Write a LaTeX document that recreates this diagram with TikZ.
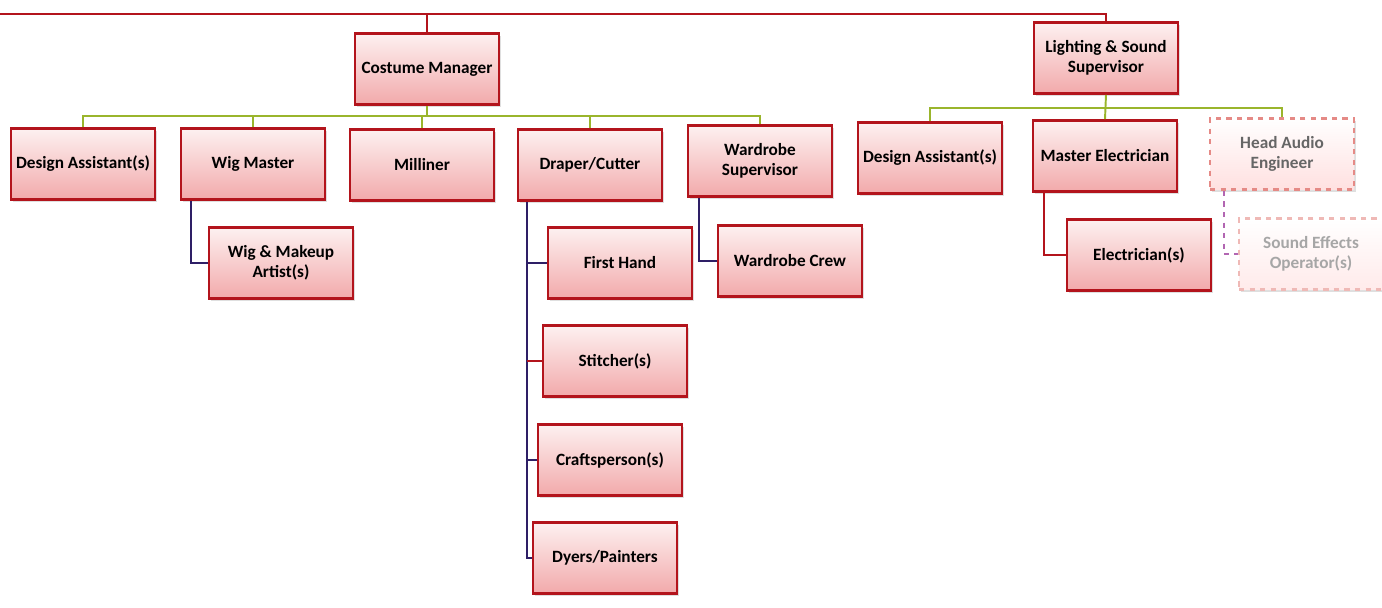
\documentclass[tikz,border=0pt]{standalone}
\usepackage{fontspec}
\setmainfont{Carlito}
\usepackage{tikz}
\usetikzlibrary{positioning, shadows}

\definecolor{boxred}{HTML}{B3141C}
\definecolor{boxtop}{HTML}{FDF0F0}
\definecolor{boxbot}{HTML}{F2A9AB}
\definecolor{busgreen}{HTML}{9AB52C}
\definecolor{subnavy}{HTML}{2E1F66}
\definecolor{fadered}{HTML}{E58A86}

\begin{document}
\begin{tikzpicture}

\tikzset{role/.style = {shape=rectangle, draw=boxred, line width=1.6pt,
  top color=boxtop, bottom color=boxbot, minimum width=2.88cm, minimum height=1.42cm,
  align=center, inner sep=1pt, font=\fontsize{9.8}{11.2}\selectfont\bfseries,
  drop shadow={opacity=0.25, shadow xshift=0.04cm, shadow yshift=-0.05cm}}}
\tikzset{faded/.style = {role, draw=fadered, dashed, top color=white, bottom color=red!12,
  text=black!60, drop shadow={opacity=0}}}
\tikzset{topline/.style = {draw=boxred, line width=1.5pt}}
\tikzset{bus/.style = {draw=busgreen, line width=1.1pt}}
\tikzset{sub/.style = {draw=subnavy, line width=1.1pt}}
\useasboundingbox (0,0) rectangle (27.64,-12.14);

% vertices
\node[role] (cm) at (8.54,-1.38) {Costume Manager};
\node[role] (ls) at (22.12,-1.16) {Lighting \& Sound\\Supervisor};

\node[role] (da) at (1.66,-3.28) {Design Assistant(s)};
\node[role] (wm) at (5.06,-3.28) {Wig Master};
\node[role] (mi) at (8.44,-3.30) {Milliner};
\node[role] (dc) at (11.80,-3.30) {Draper/Cutter};
\node[role] (ws) at (15.20,-3.22) {Wardrobe\\Supervisor};

\node[role] (da2) at (18.60,-3.16) {Design Assistant(s)};
\node[role] (me) at (22.10,-3.12) {Master Electrician};
\node[faded] (ha) at (25.64,-3.08) {Head Audio\\Engineer};

\node[role] (wma) at (5.62,-5.26) {Wig \& Makeup\\Artist(s)};
\node[role] (fh) at (12.40,-5.26) {First Hand};
\node[role] (st) at (12.30,-7.22) {Stitcher(s)};
\node[role] (cp) at (12.20,-9.20) {Craftsperson(s)};
\node[role] (dp) at (12.10,-11.16) {Dyers/Painters};
\node[role] (wc) at (15.80,-5.22) {Wardrobe Crew};
\node[role] (el) at (22.78,-5.10) {Electrician(s)};
\node[faded, draw=fadered!60, text=black!35, bottom color=red!8] (ao) at (26.22,-5.08) {Sound Effects\\Operator(s)};

%edges
\coordinate (topl) at (0,-0.28);
\draw[topline] (topl) -| (ls.north);
\draw[topline] (cm.north) -- (cm.north |- topl);

\coordinate (cmbus) at (8.54,-2.32);
\draw[bus] (da.north) |- (cmbus) -| (ws.north);
\draw[bus] (cm.south) -- (cmbus);
\foreach \n in {wm,mi,dc}
  \draw[bus] (\n.north) -- (\n.north |- cmbus);

\coordinate (lsbus) at (22.12,-2.16);
\draw[bus] (da2.north) |- (lsbus) -| (ha.north);
\draw[bus] (ls.south) -- (me.north);

\draw[sub] ([xshift=0.22cm]wm.south west) |- (wma.west);
\foreach \n in {fh,cp,dp}
  \draw[sub] ([xshift=0.2cm]dc.south west) |- (\n.west);
\draw[topline, line width=1.1pt] ([xshift=0.2cm]dc.south west |- st.west) -- (st.west);
\draw[sub] ([xshift=0.24cm]ws.south west) |- (wc.west);
\draw[topline, line width=1.1pt] ([xshift=0.24cm]me.south west) |- (el.west);
\draw[sub, draw=violet!60, dashed] ([xshift=0.3cm]ha.south west) |- (ao.west);
\end{tikzpicture}
\end{document}
